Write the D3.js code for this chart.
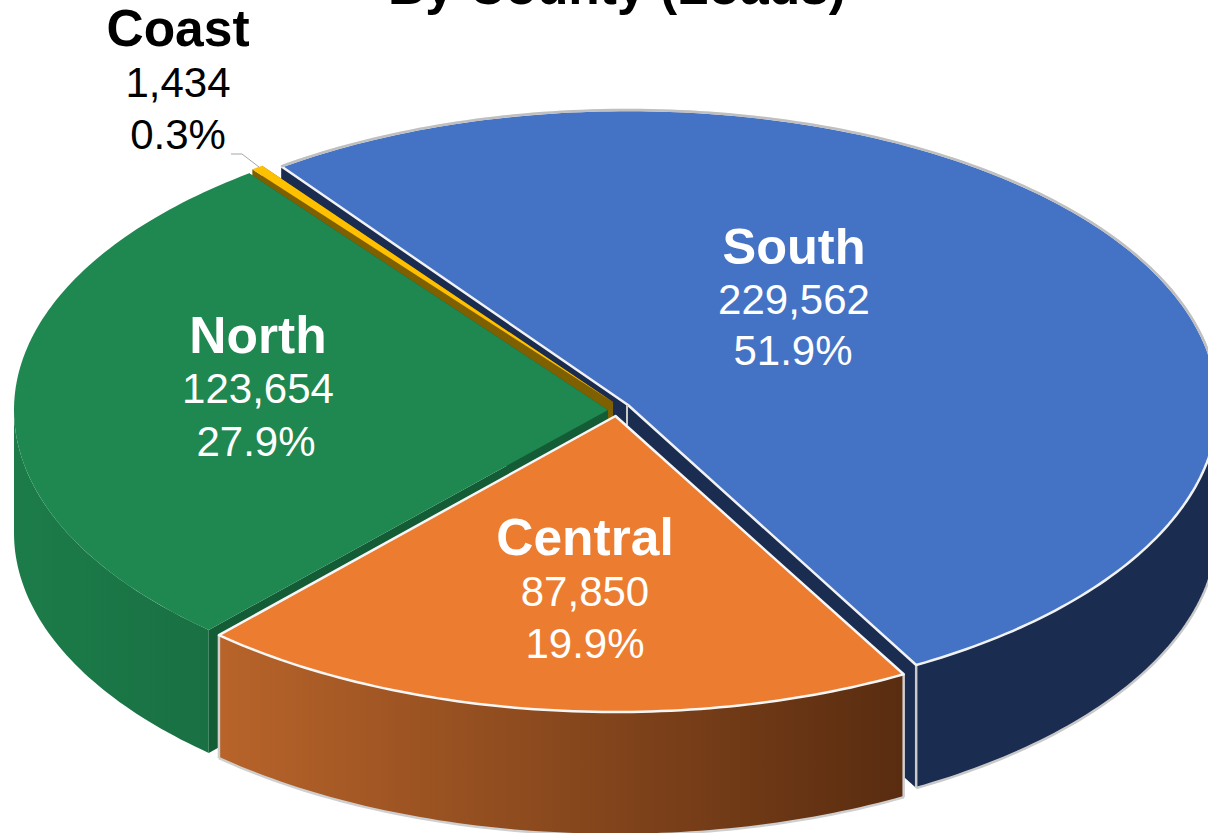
<!DOCTYPE html>
<html><head><meta charset="utf-8">
<script src="https://cdnjs.cloudflare.com/ajax/libs/d3/7.8.5/d3.min.js"></script>
<style>html,body{margin:0;padding:0;background:#fff}svg{display:block}text{font-family:"Liberation Sans",Arial,sans-serif}</style>
</head><body><svg id="c" width="1208" height="833"></svg>
<script>
const categories = ["South","Central","North","Coast"];
const values = [229562,87850,123654,1434];
const titleText = "By County (Loads)";

const svg = d3.select("#c");
const W = 1208, H = 833, DEPTH = 123;
const startDeg = -36;
const pie = d3.pie().sort(null).startAngle(startDeg*Math.PI/180).endAngle((startDeg+360)*Math.PI/180);
const arcs = pie(values);
const total = d3.sum(values);
const fmtV = d3.format(","), fmtP = d3.format(".1%");

const geom = {
  South:  {cx:628, cy:405, rx:590, ryT:295, ryB:298, top:"#4472c4", wall:"#1a2c50", cut:"#1a2c50", stroke:"#f2f2f2", edge:"#c9c9c9"},
  Central:{cx:615.5, cy:416, rx:590, ryT:297, ryB:296, top:"#ec7c30", wall:"url(#gC)", cut:"#5a2e12", stroke:"#f7f7f7", edge:"#cfcfcf"},
  North:  {cx:608, cy:410, rx:594, ryT:297, ryB:297, top:"#1f8750", wall:"url(#gN)", cut:"#145c36", stroke:null, edge:null},
  Coast:  {cx:613, cy:402, rx:597, ryT:292, ryB:292, top:"#ffc000", wall:"#7f6000", cut:"#7f6000", stroke:null, edge:null}
};
const labelPos = {
  South:{x:794,y:[264,314,365],fill:"#fff",px:793},
  Central:{x:585,y:[555,606,658],fill:"#fff",px:585},
  North:{x:258,y:[353,403,456],fill:"#fff",px:256},
  Coast:{x:178,y:[46,97,149],fill:"#000",px:178}
};

const defs = svg.append("defs");
function grad(id,x1,x2,c1,c2){
  const g = defs.append("linearGradient").attr("id",id).attr("gradientUnits","userSpaceOnUse")
    .attr("x1",x1).attr("x2",x2).attr("y1",0).attr("y2",0);
  g.append("stop").attr("offset",0).attr("stop-color",c1);
  g.append("stop").attr("offset",1).attr("stop-color",c2);
}
grad("gC",218,905,"#b8642a","#592c10");
grad("gN",14,210,"#1c7c49","#197043");

const line = d3.line();
const pt = (g,a,dy=0)=>{const c=Math.cos(a);return [g.cx+g.rx*Math.sin(a), g.cy-(c>0?g.ryT:g.ryB)*c+dy];};
const sample = (a0,a1)=>{const n=Math.max(2,Math.ceil(Math.abs(a1-a0)*60));return d3.range(n+1).map(i=>a0+(a1-a0)*i/n);};

const order = ["South","Coast","North","Central"];
const PI = Math.PI;
order.forEach(name=>{
  const d = arcs[categories.indexOf(name)], g = geom[name];
  const a0=d.startAngle, a1=d.endAngle;
  const layer = svg.append("g").attr("class","slice "+name);
  const apex=[g.cx,g.cy];
  [a0,a1].forEach(a=>{
    const p=pt(g,a);
    layer.append("path").attr("d",line([apex,p,[p[0],p[1]+DEPTH],[apex[0],apex[1]+DEPTH]])+"Z").attr("fill",g.cut);
  });
  const wallA0=Math.max(a0,PI/2), wallA1=Math.min(a1,3*PI/2);
  if(wallA1>wallA0){
    const s=sample(wallA0,wallA1);
    const up=s.map(a=>pt(g,a)), low=s.map(a=>pt(g,a,DEPTH)).reverse();
    layer.append("path").attr("d",line(up.concat(low))+"Z").attr("fill",g.wall);
    if(g.edge){
      layer.append("path").attr("d",line(low)).attr("fill","none").attr("stroke",g.edge).attr("stroke-width",2.5);
      [a0,a1].forEach(a=>{ if(a>=PI/2&&a<=3*PI/2){const p=pt(g,a);
        layer.append("path").attr("d",line([p,[p[0],p[1]+DEPTH]])).attr("fill","none").attr("stroke",g.edge).attr("stroke-width",2.5);}});
    }
  }
  const topPts=[apex].concat(sample(a0,a1).map(a=>pt(g,a)));
  layer.append("path").attr("d",line(topPts)+"Z").attr("fill",g.top);
  if(g.stroke){
    layer.append("path").attr("d",line(topPts)+"Z").attr("fill","none").attr("stroke",g.stroke).attr("stroke-width",2.5).attr("stroke-linejoin","round");
  }
  if(name==="South"){
    // the rim on the far side reads grey against the white page
    layer.append("path").attr("d",line(sample(a0,Math.PI/2).map(a=>pt(g,a)))).attr("fill","none").attr("stroke","#bfbfbf").attr("stroke-width",2.5);
  }
});
(function(){const g=geom.South;
  svg.append("path").attr("d",line([[g.cx-1,g.cy],[g.cx-1,g.cy+20]])).attr("stroke","#c9c9c9").attr("stroke-width",2).attr("fill","none");
  svg.select(".slice.Central").raise();
})();

svg.append("path").attr("d",line([[231,154],[242,154],[259,167]])).attr("fill","none").attr("stroke","#a6a6a6").attr("stroke-width",1);

svg.append("text").attr("x",617).attr("y",4).attr("text-anchor","middle").attr("font-size",51.5).attr("font-weight","bold").attr("fill","#000").text(titleText);

categories.forEach((c,i)=>{
  const L=labelPos[c];
  const t=svg.append("g").attr("text-anchor","middle").attr("fill",L.fill);
  t.append("text").attr("x",L.x).attr("y",L.y[0]).attr("font-size",c==="South"?50.5:51.5).attr("font-weight","bold").text(c);
  t.append("text").attr("x",L.x).attr("y",L.y[1]).attr("font-size",42).text(fmtV(values[i]));
  t.append("text").attr("x",L.px).attr("y",L.y[2]).attr("font-size",42).text(fmtP(values[i]/total));
});
</script></body></html>
